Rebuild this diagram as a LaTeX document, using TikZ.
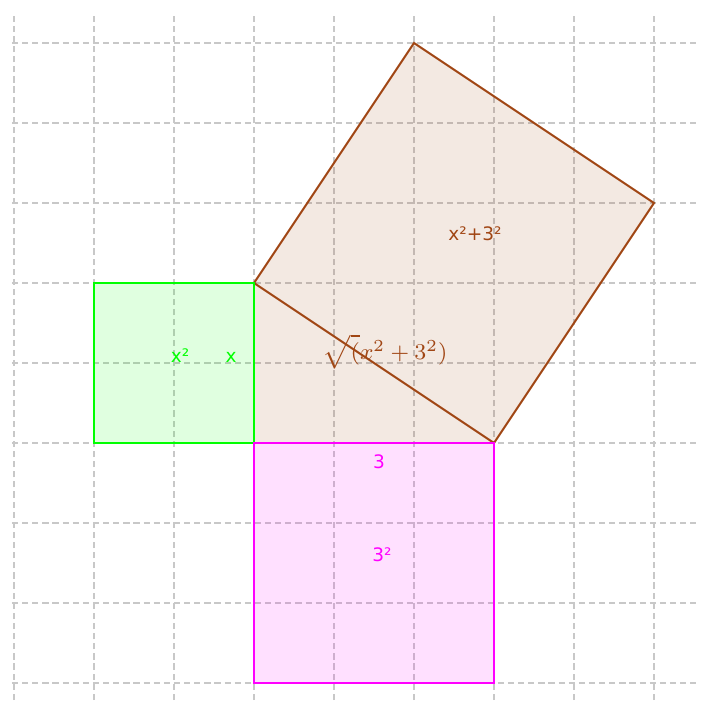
\documentclass[tikz,border=0pt]{standalone}
\usepackage{fontspec}
\setsansfont{DejaVu Sans}
\definecolor{gridc}{RGB}{200,200,200}
\definecolor{grn}{RGB}{0,255,0}
\definecolor{mag}{RGB}{255,0,255}
\definecolor{brn}{RGB}{160,70,20}
\begin{document}
\begin{tikzpicture}[
  gridline/.style={draw=gridc, line width=0.4pt, dash pattern=on 2.2pt off 1.4pt},
  sq/.style={line width=0.6pt, fill opacity=0.12},
  lbl/.style={font=\sffamily\fontsize{6.6}{8}\selectfont, inner sep=0pt}
]
\useasboundingbox (-3.175,-3.2125) rectangle (5.6375,5.5375);
% grid
\foreach \i in {-3,...,5} {
  \draw[gridline] (\i,-3.2125) -- (\i,5.3875);
  \draw[gridline] (-3.025,\i) -- (5.54,\i);
}
% shapes
\coordinate (O) at (0,0);
\coordinate (A) at (0,2);
\coordinate (B) at (3,0);
\coordinate (C) at (5,3);
\coordinate (D) at (2,5);
\fill[brn, fill opacity=0.12] (A) -- (O) -- (B) -- cycle;
\filldraw[sq, draw=brn, fill=brn, line width=0.7pt] (A) -- (B) -- (C) -- (D) -- cycle;
\filldraw[sq, draw=grn, fill=grn] (-2,0) rectangle (A);
\filldraw[sq, draw=mag, fill=mag] (0,-3) rectangle (B);
% labels
\node[lbl, text=grn] (l1) at (-0.925,1.0875) {x²};
\node[lbl, text=grn] (l2) at (-0.2875,1.075) {x};
\node[text=brn, inner sep=0pt, font=\fontsize{8.5}{10}\selectfont] (l3) at (1.6375,1.14) {$\sqrt(x^2+3^2)$};
\node[lbl, text=brn] (l4) at (2.7625,2.6125) {x²+3²};
\node[lbl, text=mag] (l5) at (1.5625,-0.2375) {3};
\node[lbl, text=mag] (l6) at (1.6,-1.4) {3²};
\end{tikzpicture}
\end{document}
